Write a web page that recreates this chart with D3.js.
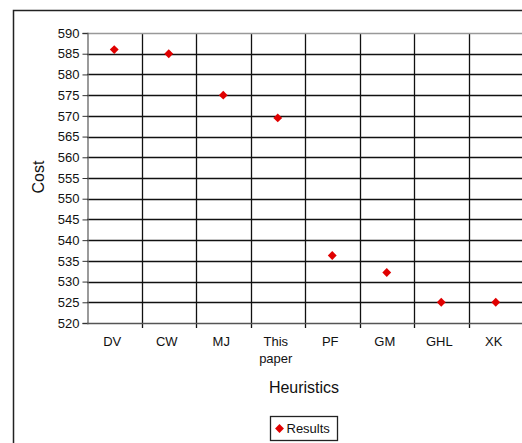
<!DOCTYPE html>
<html>
<head>
<meta charset="utf-8">
<script src="https://cdn.jsdelivr.net/npm/d3@7"></script>
<style>
	body { margin: 0; background: #fff; }
	svg { display: block; font-family: 'Liberation Sans', Arial, sans-serif; }
</style>
</head>
<body>
<div id="chart"></div>
<script>
	'use strict';

	var categories = ['DV', 'CW', 'MJ', 'This paper', 'PF', 'GM', 'GHL', 'XK'];
	var costs = [586, 585, 575, 569.5, 536.3, 532.2, 525, 525];
	var yTicks = d3.range(520, 591, 5);

	var width = 522, height = 443;
	var plot = { left: 87, top: 33, right: 523, bottom: 323 };

	var svg = d3.select('#chart').append('svg')
		.attr('width', width)
		.attr('height', height);

	// outer frame
	svg.append('rect')
		.attr('x', 13.5).attr('y', 10.5)
		.attr('width', 520).attr('height', 440)
		.attr('fill', 'none')
		.attr('stroke', '#222')
		.attr('stroke-width', 1.5);

	var x = d3.scaleBand()
		.domain(categories)
		.range([plot.left, plot.right]);

	var y = d3.scaleLinear()
		.domain([520, 590])
		.range([plot.bottom, plot.top]);

	// horizontal grid
	svg.append('g').selectAll('line')
		.data(yTicks.slice(1, -1))
		.enter().append('line')
		.attr('x1', plot.left).attr('x2', plot.right)
		.attr('y1', function(d) { return Math.round(y(d)) + 0.5; })
		.attr('y2', function(d) { return Math.round(y(d)) + 0.5; })
		.attr('stroke', '#111').attr('stroke-width', 1.3);

	// vertical grid
	svg.append('g').selectAll('line')
		.data(categories.slice(1))
		.enter().append('line')
		.attr('x1', function(d) { return Math.round(x(d)) + 0.5; })
		.attr('x2', function(d) { return Math.round(x(d)) + 0.5; })
		.attr('y1', plot.top).attr('y2', plot.bottom + 5)
		.attr('stroke', '#111').attr('stroke-width', 1.3);

	// plot top border
	svg.append('line')
		.attr('x1', plot.left).attr('x2', plot.right)
		.attr('y1', plot.top + 0.5).attr('y2', plot.top + 0.5)
		.attr('stroke', '#999').attr('stroke-width', 1.3);

	// y axis
	var yAxis = svg.append('g')
		.attr('transform', 'translate(' + (plot.left + 0.5) + ',0)')
		.call(d3.axisLeft(y).tickValues(yTicks).tickSize(5).tickPadding(3));
	yAxis.select('.domain').attr('stroke', '#666').attr('stroke-width', 1.3);
	yAxis.selectAll('.tick line').attr('stroke', '#333');
	yAxis.selectAll('.tick text')
		.attr('font-size', 13).attr('fill', '#111')
		.style('font-family', 'Liberation Sans, Arial, sans-serif');

	// x axis baseline
	svg.append('line')
		.attr('x1', plot.left).attr('x2', plot.right)
		.attr('y1', plot.bottom + 0.5).attr('y2', plot.bottom + 0.5)
		.attr('stroke', '#555').attr('stroke-width', 1.3);

	// x labels
	var xl = svg.append('g').selectAll('text')
		.data(categories)
		.enter().append('text')
		.attr('text-anchor', 'middle')
		.attr('font-size', 13)
		.attr('fill', '#111')
		.attr('x', function(d) { return x(d) + x.bandwidth() / 2 - 2; })
		.attr('y', 346);
	xl.each(function(d) {
		var words = d.split(' ');
		var t = d3.select(this);
		words.forEach(function(w, i) {
			t.append('tspan')
				.attr('x', t.attr('x'))
				.attr('dy', i === 0 ? 0 : 17)
				.text(w);
		});
	});

	// axis titles
	svg.append('text')
		.attr('x', 304).attr('y', 393)
		.attr('text-anchor', 'middle')
		.attr('font-size', 16)
		.attr('fill', '#111')
		.text('Heuristics');

	svg.append('text')
		.attr('transform', 'translate(44,177) rotate(-90)')
		.attr('text-anchor', 'middle')
		.attr('font-size', 16)
		.attr('fill', '#111')
		.text('Cost');

	// points
	var diamond = d3.symbol().type(d3.symbolDiamond2).size(50);
	svg.append('g').selectAll('path')
		.data(categories)
		.enter().append('path')
		.attr('d', diamond)
		.attr('transform', function(d, i) {
			return 'translate(' + (x(d) + x.bandwidth() / 2) + ',' + y(costs[i]) + ')';
		})
		.attr('fill', '#e00000');

	// legend
	var legend = svg.append('g').attr('transform', 'translate(270.5,416.5)');
	legend.append('rect')
		.attr('width', 67).attr('height', 24)
		.attr('fill', '#fff').attr('stroke', '#222').attr('stroke-width', 1.3);
	legend.append('path')
		.attr('d', diamond)
		.attr('transform', 'translate(9,12)')
		.attr('fill', '#e00000');
	legend.append('text')
		.attr('x', 16).attr('y', 16.5)
		.attr('font-size', 13)
		.attr('fill', '#111')
		.text('Results');
</script>
</body>
</html>
